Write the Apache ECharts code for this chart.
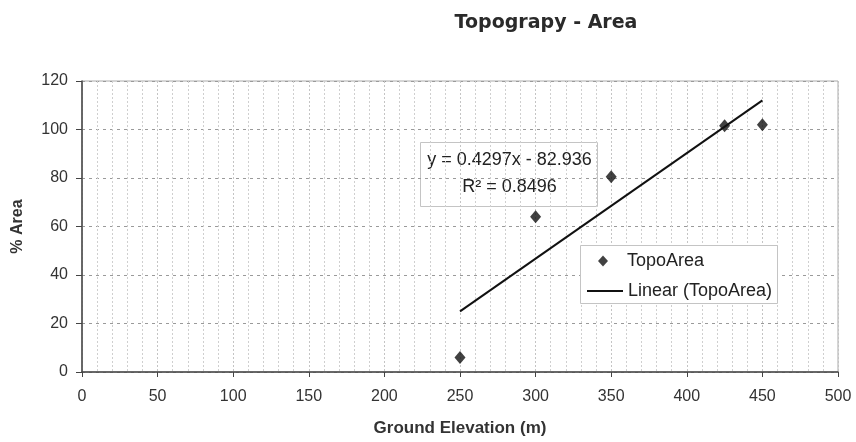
<!DOCTYPE html>
<html>
<head>
<meta charset="utf-8">
<script src="https://cdn.jsdelivr.net/npm/echarts@6/dist/echarts.min.js"></script>
<style>
  html, body { margin: 0; padding: 0; background: #fff; }
  #chart { width: 856px; height: 442px; }
</style>
</head>
<body>
<div id="chart"></div>
<script>
// Observed points
const elevation = [250, 300, 350, 425, 450]
const areaPct = [6, 64, 80.5, 101.5, 102]

// Excel linear trendline, endpoints as drawn
const trendPoints = [[250, 25], [450, 112]]
const equationText = 'y = 0.4297x - 82.936'
const r2Text = 'R\u00b2 = 0.8496'

const xTicks = { min: 0, max: 500, interval: 50 }
const yTicks = { min: 0, max: 120, interval: 20 }

const font = '"Liberation Sans", Arial, sans-serif'
const chart = echarts.init(document.getElementById('chart'))

chart.setOption({
  animation: false,
  textStyle: { fontFamily: font, color: '#222' },
  title: {
    text: 'Topograpy - Area',
    left: 541,
    top: 9,
    textAlign: 'center',
    textStyle: { fontFamily: '"DejaVu Sans", sans-serif', fontWeight: 'bold', fontSize: 19, color: '#2a2a2a' },
  },
  grid: { left: 82, right: 18, top: 81, bottom: 69, show: true, borderColor: '#aaa', borderWidth: 1 },
  xAxis: {
    type: 'value',
    min: xTicks.min, max: xTicks.max, interval: xTicks.interval,
    name: 'Ground Elevation (m)',
    nameLocation: 'middle',
    nameGap: 48,
    nameTextStyle: { fontFamily: font, fontWeight: 'bold', fontSize: 17, color: '#333' },
    axisLine: { lineStyle: { color: '#444', width: 1.5 } },
    axisTick: { show: true, length: 5, lineStyle: { color: '#444' } },
    axisLabel: { fontSize: 16, color: '#333', margin: 17 },
    splitLine: { show: true, lineStyle: { color: '#c4c4c4', type: [2, 2] } },
    minorTick: { show: false, splitNumber: 5 },
    minorSplitLine: { show: true, lineStyle: { color: '#cfcfcf', type: [2, 2] } },
  },
  yAxis: {
    type: 'value',
    min: yTicks.min, max: yTicks.max, interval: yTicks.interval,
    name: '% Area',
    nameLocation: 'middle',
    nameRotate: 90,
    nameGap: 56,
    nameTextStyle: { fontFamily: font, fontWeight: 'bold', fontSize: 16, color: '#333' },
    axisLine: { show: true, lineStyle: { color: '#444', width: 1.5 } },
    axisTick: { show: true, length: 6, lineStyle: { color: '#444' } },
    axisLabel: { fontSize: 16, color: '#333', margin: 14 },
    splitLine: { show: true, lineStyle: { color: '#9a9a9a', type: [3, 4] } },
  },
  legend: [
    {
      left: 598,
      top: 251,
      padding: 0,
      itemWidth: 10,
      itemHeight: 11,
      textStyle: { fontFamily: font, fontSize: 18, color: '#222', lineHeight: 20, padding: [0, 0, 0, 14] },
      data: [{ name: 'TopoArea', icon: 'diamond' }],
    },
    {
      left: 587,
      top: 281,
      padding: 0,
      itemWidth: 36,
      itemHeight: 2,
      textStyle: { fontFamily: font, fontSize: 18, color: '#222', lineHeight: 20 },
      data: [{ name: 'Linear (TopoArea)', icon: 'rect' }],
    },
  ],
  graphic: [
    {
      type: 'rect',
      left: 580,
      top: 245,
      z: 3,
      shape: { width: 197, height: 58 },
      style: { fill: '#fff', stroke: '#c4c4c4', lineWidth: 1 },
    },
    {
      type: 'group',
      left: 420,
      top: 142,
      z: 100,
      children: [
        { type: 'rect', shape: { x: 0, y: 0, width: 177, height: 64 },
          style: { fill: '#fff', stroke: '#c4c4c4', lineWidth: 1 } },
        { type: 'text', x: 89, y: 18,
          style: { text: equationText, align: 'center', verticalAlign: 'middle', font: '18px "Liberation Sans", Arial, sans-serif', fill: '#222' } },
        { type: 'text', x: 89, y: 45,
          style: { text: r2Text, align: 'center', verticalAlign: 'middle', font: '18px "Liberation Sans", Arial, sans-serif', fill: '#222' } },
      ],
    },
  ],
  series: [
    {
      name: 'TopoArea',
      type: 'scatter',
      symbol: 'diamond',
      symbolSize: [11, 13],
      itemStyle: { color: '#111' },
      data: elevation.map((x, i) => [x, areaPct[i]]),
      z: 5,
    },
    {
      name: 'Linear (TopoArea)',
      type: 'line',
      symbol: 'none',
      lineStyle: { color: '#111', width: 2 },
      itemStyle: { color: '#111' },
      data: trendPoints,
      z: 4,
    },
  ],
})
</script>
</body>
</html>
